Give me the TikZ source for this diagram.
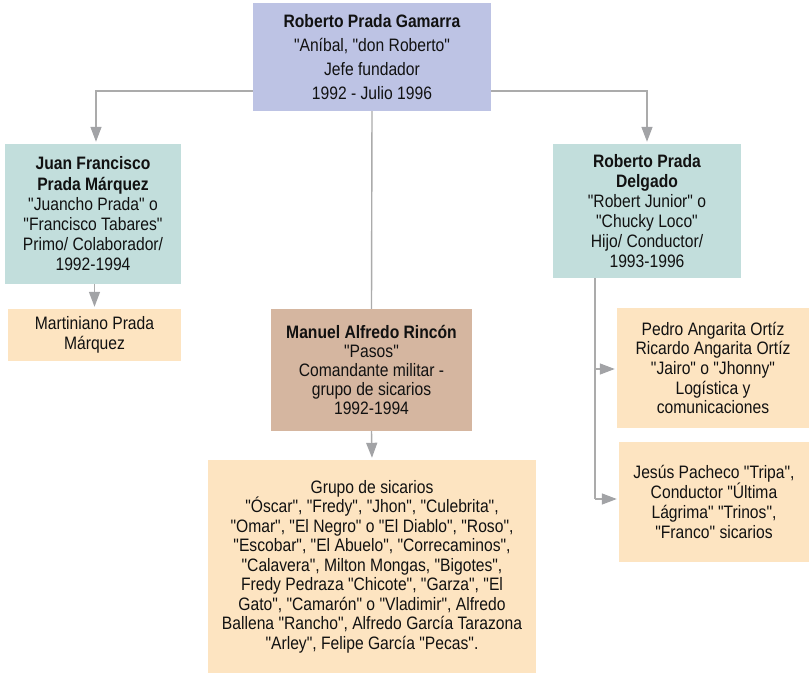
\documentclass[tikz,border=0pt]{standalone}
\usepackage{fontspec}
\setmainfont{Liberation Sans}[FakeStretch=0.87, Ligatures=TeXOff]
\usetikzlibrary{arrows.meta}
\definecolor{cTop}{HTML}{BDC3E4}
\definecolor{cTeal}{HTML}{C2DEDC}
\definecolor{cPeach}{HTML}{FDE4C1}
\definecolor{cBrown}{HTML}{D5B6A0}
\definecolor{cLine}{HTML}{ABABAB}
\definecolor{cHead}{HTML}{A2A3A6}
\definecolor{cText}{HTML}{111111}
\tikzset{
  box/.style={fill=#1, draw=none, inner sep=0pt, align=center, anchor=center,
    text=cText, font=\fontsize{18}{19.7}\selectfont},
  conn/.style={draw=cLine, line width=1.4pt},
  arr/.style={conn, -{Triangle[length=15pt,width=11pt,fill=cHead,color=cHead]}, shorten >=2pt},
}
\begin{document}
\begin{tikzpicture}[x=1pt,y=-1pt]
\useasboundingbox (0,0) rectangle (809,674);
\node[box=cTop, minimum width=238pt, minimum height=108pt, font=\fontsize{18}{24}\selectfont] (top) at (372,57)
  {\textbf{Roberto Prada Gamarra}\\"Aníbal, "don Roberto"\\Jefe fundador\\1992 - Julio 1996};
\node[box=cTeal, minimum width=176pt, minimum height=140pt, font=\fontsize{18}{20.2}\selectfont] (jf) at (93,214)
  {\textbf{Juan Francisco}\\\textbf{Prada Márquez}\\"Juancho Prada" o\\"Francisco Tabares"\\Primo/ Colaborador/\\1992-1994};
\node[box=cPeach, minimum width=173pt, minimum height=52pt] (mp) at (94.5,335)
  {Martiniano Prada\\Márquez};
\node[box=cTeal, minimum width=188pt, minimum height=134pt, font=\fontsize{18}{20}\selectfont] (rd) at (647,211)
  {\textbf{Roberto Prada}\\\textbf{Delgado}\\"Robert Junior" o\\"Chucky Loco"\\Hijo/ Conductor/\\1993-1996};
\node[box=cBrown, minimum width=201pt, minimum height=122pt, font=\fontsize{18}{18.8}\selectfont] (mr) at (371.5,370)
  {\textbf{Manuel Alfredo Rincón}\\"Pasos"\\Comandante militar -\\grupo de sicarios\\1992-1994};
\node[box=cPeach, minimum width=328pt, minimum height=213pt, font=\fontsize{18}{19.5}\selectfont] (gs) at (372,566.5)
  {Grupo de sicarios\\"Óscar", "Fredy", "Jhon", "Culebrita",\\"Omar", "El Negro" o "El Diablo", "Roso",\\"Escobar", "El Abuelo", "Correcaminos",\\"Calavera", Milton Mongas, "Bigotes",\\Fredy Pedraza "Chicote", "Garza", "El\\Gato", "Camarón" o "Vladimir", Alfredo\\Ballena "Rancho", Alfredo García Tarazona\\"Arley", Felipe García "Pecas".};
\node[box=cPeach, minimum width=192pt, minimum height=120pt] (pa) at (713,368)
  {Pedro Angarita Ortíz\\Ricardo Angarita Ortíz\\"Jairo" o "Jhonny"\\Logística y\\comunicaciones};
\node[box=cPeach, minimum width=190pt, minimum height=120pt] (jp) at (714,502)
  {Jesús Pacheco "Tripa",\\Conductor "Última\\Lágrima" "Trinos",\\"Franco" sicarios};
% connectors
\coordinate (tl) at (96,91);
\coordinate (tr) at (647,91);
\draw[arr] (top.west |- tl) -- (tl) -- (tl |- jf.north);
\draw[arr] (top.east |- tr) -- (tr) -- (tr |- rd.north);
\draw[conn] (top.south) -- (mr.north);
\draw[arr] (mr.south) -- (gs.north);
\draw[arr] (jf.south -| mp.north) -- (mp.north);
\coordinate (rv) at (595,278);
\coordinate (b1) at (595,369);
\coordinate (b2) at (595,499);
\draw[conn] (rv) -- (b2);
\draw[arr] (b1) -- (b1 -| pa.west);
\draw[arr] (b2) -- (b2 -| jp.west);
\end{tikzpicture}
\end{document}
